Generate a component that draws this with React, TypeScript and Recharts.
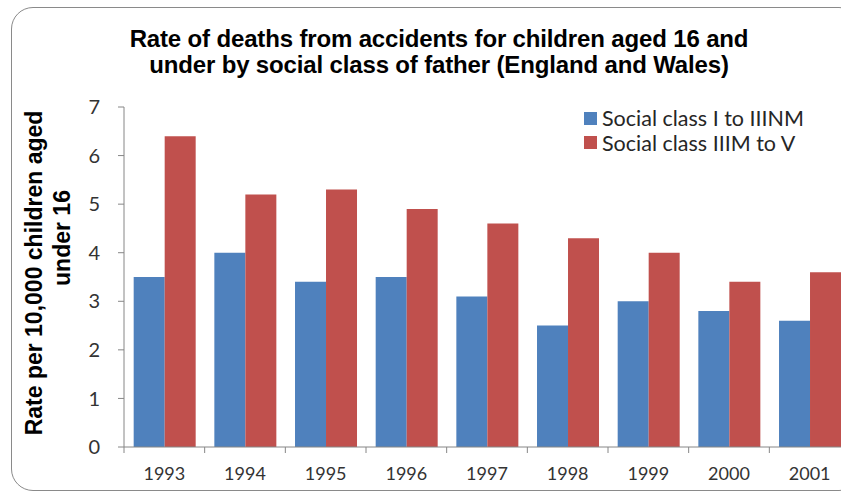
import { BarChart, Bar, XAxis, YAxis } from 'recharts';

const years = ['1993', '1994', '1995', '1996', '1997', '1998', '1999', '2000', '2001'];
const classI = [3.5, 4.0, 3.4, 3.5, 3.1, 2.5, 3.0, 2.8, 2.6];
const classV = [6.4, 5.2, 5.3, 4.9, 4.6, 4.3, 4.0, 3.4, 3.6];
const yTicks = [0, 1, 2, 3, 4, 5, 6, 7];

const SERIES = [
  { name: 'Social class I to IIINM', color: '#4F81BD' },
  { name: 'Social class IIIM to V', color: '#C0504D' },
];

const data = years.map((year, i) => ({
  year,
  [SERIES[0].name]: classI[i],
  [SERIES[1].name]: classV[i],
}));

const AXIS = '#868686';
const BOLD = "'Liberation Sans', Arial, sans-serif";
const LABEL = "Lato, 'Open Sans', sans-serif";
const TICK_SIZE = 6;
const TICK_MARGIN = 14;
const PLOT_WIDTH = 726;

// Excel puts category ticks between groups, so draw them with the label
function YearTick(props: any) {
  const { x, y, payload, index, visibleTicksCount } = props;
  const count = visibleTicksCount || years.length;
  const w = typeof props.width === 'number' && props.width > 100 ? props.width : PLOT_WIDTH;
  const half = w / count / 2;
  const axisY = y - TICK_SIZE - TICK_MARGIN;
  return (
    <g>
      <line x1={x - half} x2={x - half} y1={axisY} y2={axisY + TICK_SIZE} stroke={AXIS} />
      {index === count - 1 && (
        <line x1={x + half} x2={x + half} y1={axisY} y2={axisY + TICK_SIZE} stroke={AXIS} />
      )}
      <text x={x} y={y} dy="0.71em" textAnchor="middle" fill="#333" fontFamily={LABEL} fontSize={18}>
        {payload.value}
      </text>
    </g>
  );
}

export default function App() {
  return (
    <div
      style={{
        position: 'absolute',
        left: 0,
        top: 0,
        width: 841,
        height: 494,
        overflow: 'hidden',
        background: '#fff',
      }}
    >
      <div
        style={{
          position: 'absolute',
          left: 11,
          top: 7,
          width: 850,
          height: 484,
          border: '1.5px solid #8a8a8a',
          borderRadius: 22,
          boxSizing: 'border-box',
        }}
      />
      <div
        style={{
          position: 'absolute',
          left: 0,
          top: 26,
          width: 878,
          textAlign: 'center',
          fontFamily: BOLD,
          fontWeight: 'bold',
          fontSize: 24,
          lineHeight: '26px',
          letterSpacing: -0.15,
          color: '#000',
        }}
      >
        Rate of deaths from accidents for children aged 16 and
        <br />
        under by social class of father (England and Wales)
      </div>
      <svg style={{ position: 'absolute', left: 0, top: 0 }} width={100} height={494}>
        <text
          transform="translate(42,273) rotate(-90)"
          textAnchor="middle"
          fontFamily={BOLD}
          fontWeight="bold"
          fontSize={23}
          fill="#000"
        >
          Rate per 10,000 children aged
        </text>
        <text
          transform="translate(70,238) rotate(-90)"
          textAnchor="middle"
          fontFamily={BOLD}
          fontWeight="bold"
          fontSize={23}
          fill="#000"
        >
          under 16
        </text>
      </svg>
      <div style={{ position: 'absolute', left: 0, top: 0 }}>
        <BarChart
          width={856}
          height={494}
          data={data}
          margin={{ top: 107, right: 6, bottom: 7, left: 64 }}
          barCategoryGap="12%"
          barGap={0}
        >
          <XAxis
            dataKey="year"
            height={40}
            stroke={AXIS}
            tickLine={false}
            tickSize={TICK_SIZE}
            tickMargin={TICK_MARGIN}
            tick={<YearTick />}
          />
          <YAxis
            domain={[0, 7]}
            ticks={yTicks}
            width={60}
            stroke={AXIS}
            tickSize={6}
            tickMargin={18}
            tick={{ fill: '#333', fontFamily: LABEL, fontSize: 20 }}
          />
          {SERIES.map((s) => (
            <Bar key={s.name} dataKey={s.name} fill={s.color} isAnimationActive={false} />
          ))}
        </BarChart>
      </div>
      <div style={{ position: 'absolute', left: 584, top: 106 }}>
        {SERIES.map((s) => (
          <div key={s.name} style={{ display: 'flex', alignItems: 'center', height: 24.5 }}>
            <div style={{ width: 13, height: 13, background: s.color, marginRight: 5 }} />
            <span style={{ fontFamily: LABEL, fontSize: 21.5, color: '#262626' }}>{s.name}</span>
          </div>
        ))}
      </div>
    </div>
  );
}
